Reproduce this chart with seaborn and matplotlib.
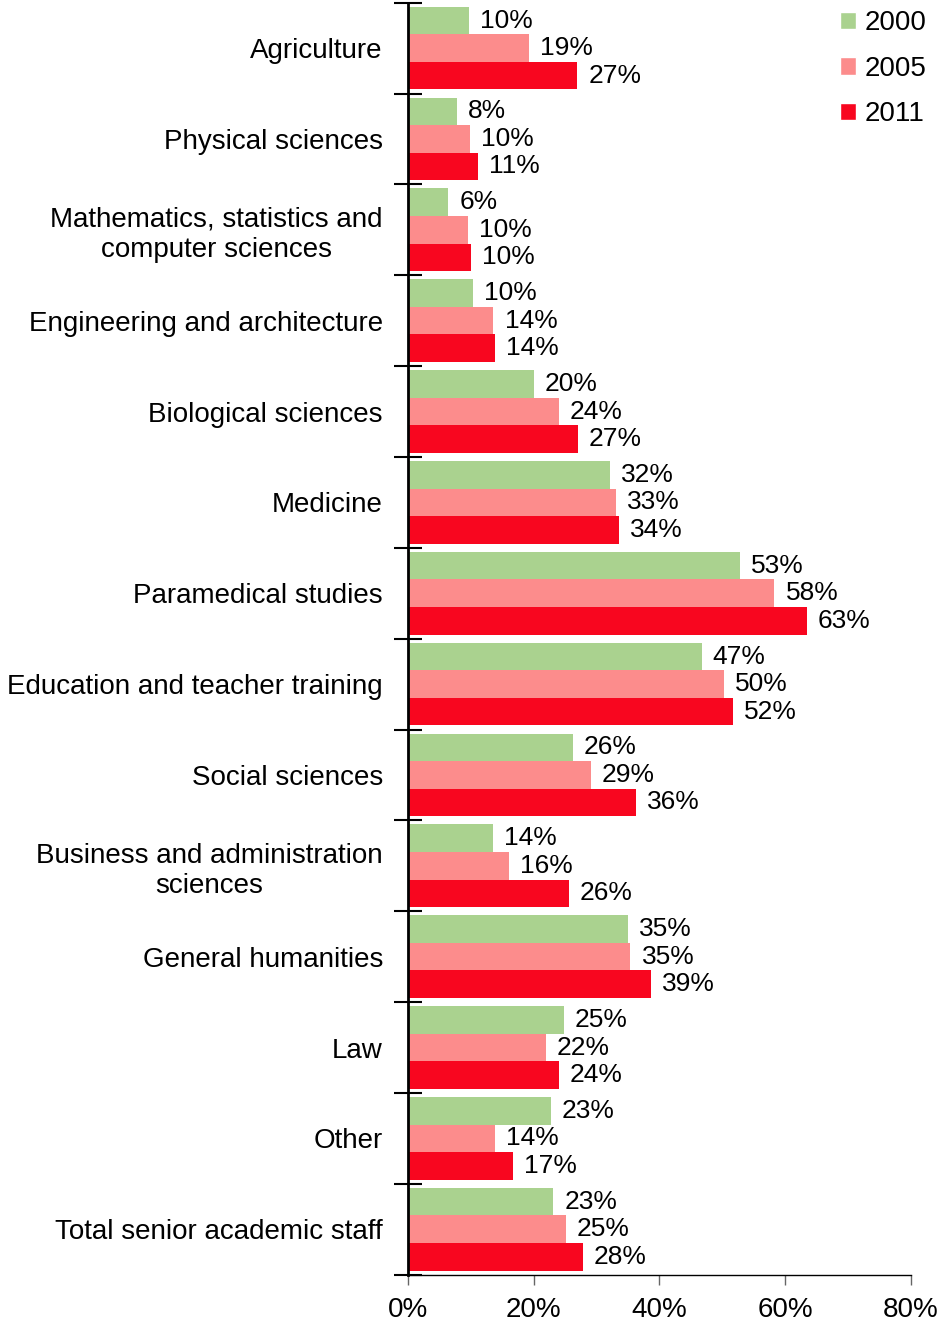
import matplotlib
matplotlib.use("Agg")
import matplotlib.pyplot as plt
import numpy as np
import pandas as pd
import seaborn as sns
from matplotlib.patches import Patch
from matplotlib.ticker import FixedLocator, PercentFormatter

# Share of women among senior academic staff, by field
categories = [
    "Agriculture",
    "Physical sciences",
    "Mathematics, statistics and\ncomputer sciences",
    "Engineering and architecture",
    "Biological sciences",
    "Medicine",
    "Paramedical studies",
    "Education and teacher training",
    "Social sciences",
    "Business and administration\nsciences",
    "General humanities",
    "Law",
    "Other",
    "Total senior academic staff",
]
years = ["2000", "2005", "2011"]
values_2000 = [9.7, 7.8, 6.4, 10.3, 20.0, 32.1, 52.8, 46.7, 26.2, 13.5, 35.0, 24.8, 22.7, 23.1]
values_2005 = [19.2, 9.9, 9.5, 13.6, 24.0, 33.1, 58.3, 50.2, 29.1, 16.1, 35.4, 21.9, 13.8, 25.1]
values_2011 = [26.9, 11.1, 10.0, 13.8, 27.0, 33.6, 63.4, 51.7, 36.2, 25.6, 38.6, 24.0, 16.7, 27.8]
x_ticks = [0, 20, 40, 60, 80]

palette = {"2000": "#AAD28F", "2005": "#FC8C8C", "2011": "#F8061F"}


def build_frame() -> pd.DataFrame:
    rows = []
    for year, vals in zip(years, [values_2000, values_2005, values_2011]):
        for cat, v in zip(categories, vals):
            rows.append({"category": cat, "year": year, "value": v})
    return pd.DataFrame(rows)


def main():
    data = build_frame()

    sns.set_style("white")
    plt.rcParams["font.family"] = ["Liberation Sans", "DejaVu Sans"]
    plt.rcParams["text.color"] = "black"
    plt.rcParams["xtick.color"] = "black"
    plt.rcParams["ytick.color"] = "black"

    fig = plt.figure(figsize=(9.42, 13.25), dpi=100)
    ax = fig.add_axes([0.433, 0.038, 0.534, 0.96])

    sns.barplot(
        data=data,
        y="category",
        x="value",
        hue="year",
        order=categories,
        hue_order=years,
        palette=palette,
        orient="h",
        width=0.91,
        linewidth=0,
        saturation=1,
        legend=False,
        ax=ax,
    )

    # value labels
    for container in ax.containers:
        labels = [f"{round(v)}%" for v in container.datavalues]
        ax.bar_label(container, labels=labels, padding=8, fontsize=19)

    ax.set_xlim(0, 80)
    ax.set_ylim(len(categories) - 0.5, -0.5)
    ax.set_xticks(x_ticks)
    ax.xaxis.set_major_formatter(PercentFormatter(decimals=0))
    ax.tick_params(axis="x", bottom=True, labelsize=20, length=7, width=1,
                   color="#666666", labelcolor="black", direction="out", pad=9)

    # category labels without ticks, boundary ticks as minor ticks
    ax.tick_params(axis="y", which="major", left=True, length=0, labelsize=20, pad=18,
                   labelcolor="black")
    ax.yaxis.set_minor_locator(FixedLocator(np.arange(-0.5, len(categories), 1.0)))
    ax.tick_params(axis="y", which="minor", left=True, length=20, width=1.5,
                   direction="inout", color="black")
    for lbl in ax.get_yticklabels():
        lbl.set_multialignment("center")

    ax.set_xlabel("")
    ax.set_ylabel("")
    sns.despine(ax=ax, top=True, right=True)
    ax.spines["left"].set_linewidth(2)
    ax.spines["left"].set_color("black")
    ax.spines["bottom"].set_linewidth(1)
    ax.spines["bottom"].set_color("black")

    handles = [Patch(facecolor=palette[y], label=y) for y in years]
    fig.legend(
        handles=handles,
        loc="upper right",
        bbox_to_anchor=(1.01, 1.011),
        frameon=False,
        fontsize=20,
        handlelength=0.6,
        handleheight=0.6,
        handletextpad=0.3,
        labelspacing=0.7,
    )

    fig.savefig("out.png", dpi=100)
    plt.close(fig)


if __name__ == "__main__":
    main()
